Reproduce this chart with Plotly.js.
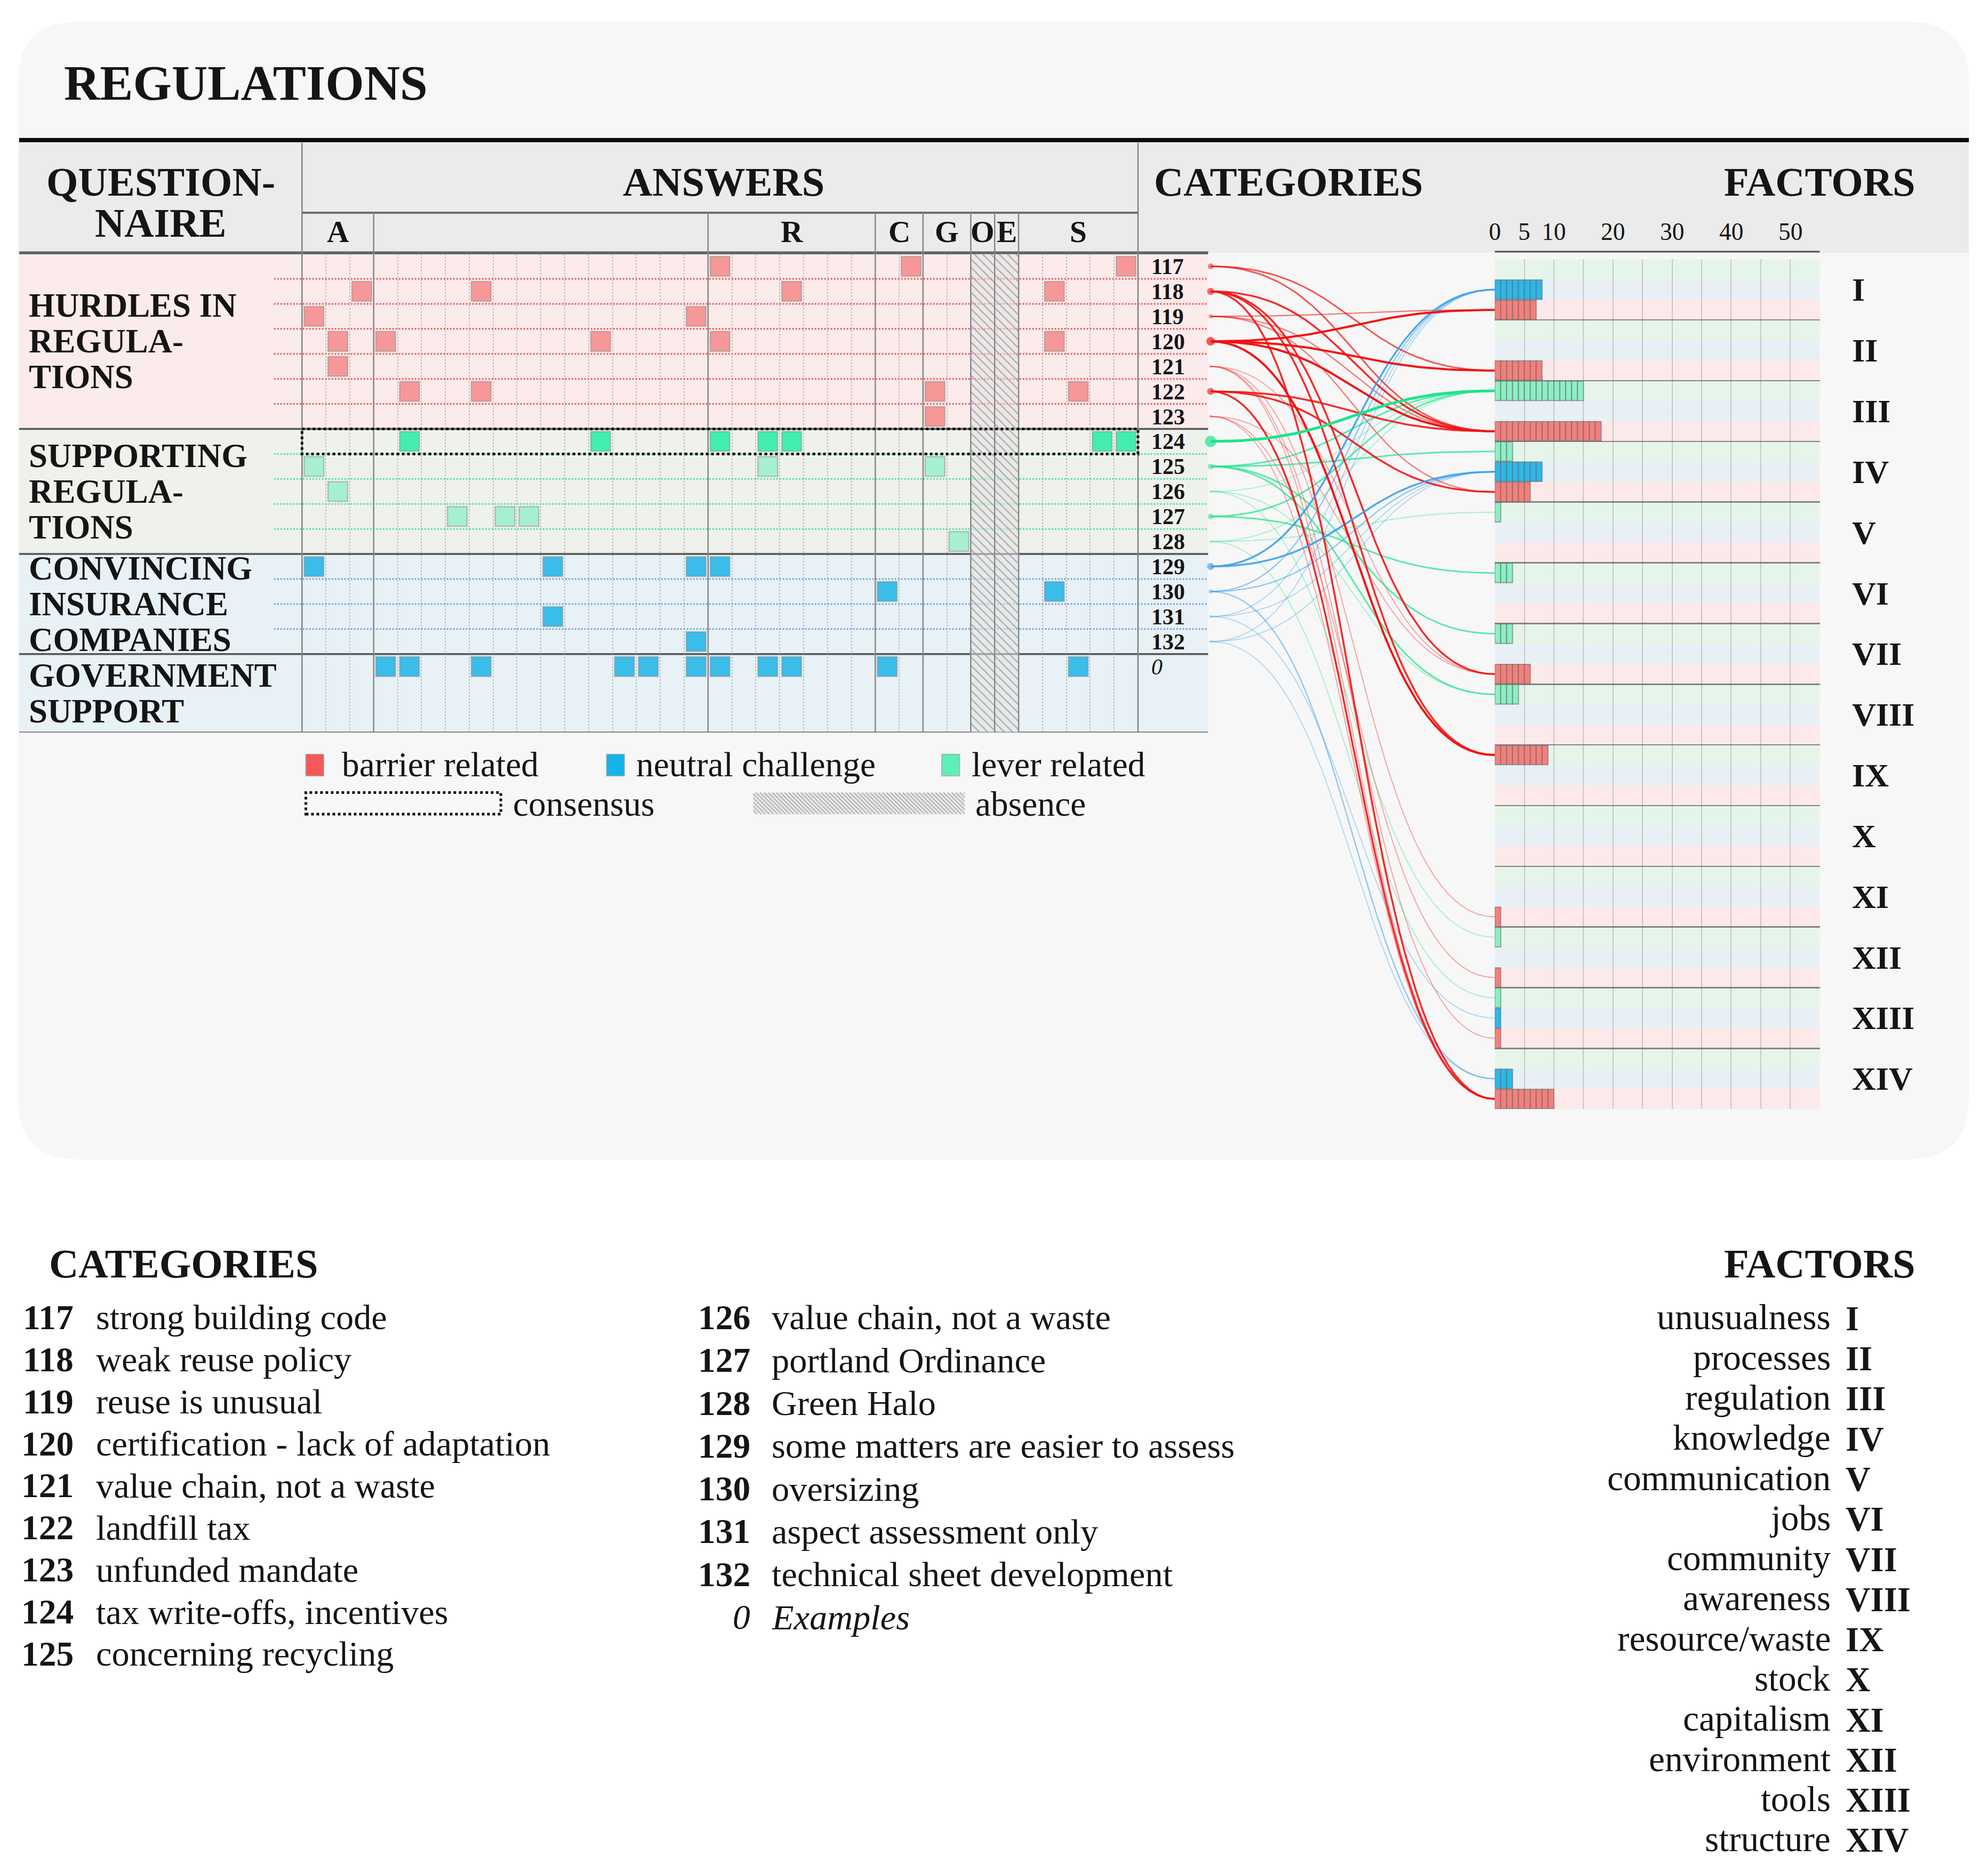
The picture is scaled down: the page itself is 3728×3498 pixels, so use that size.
<!DOCTYPE html>
<html><head><meta charset="utf-8">
<script src="https://cdn.plot.ly/plotly-3.0.1.min.js"></script>
<style>html,body{margin:0;padding:0;background:#fff}</style>
</head><body><div id="chart" style="width:3728px;height:3498px"></div>
<script>
// ================= DATA =================
const chartTitle = 'REGULATIONS';

const answerGroupLetters = ['A', '', 'R', 'C', 'G', 'O', 'E', 'S'];
const answerGroupSizes   = [3, 14, 7, 2, 2, 1, 1, 5];
const absentGroups = ['O', 'E'];

const categoryIds = ['117','118','119','120','121','122','123','124','125','126','127','128','129','130','131','132','0'];
const categoryNames = ['strong building code','weak reuse policy','reuse is unusual','certification - lack of adaptation',
  'value chain, not a waste','landfill tax','unfunded mandate','tax write-offs, incentives','concerning recycling',
  'value chain, not a waste','portland Ordinance','Green Halo','some matters are easier to assess','oversizing',
  'aspect assessment only','technical sheet development','Examples'];
const categoryKinds = ['barrier','barrier','barrier','barrier','barrier','barrier','barrier',
  'lever','lever','lever','lever','lever','neutral','neutral','neutral','neutral','neutral'];
const consensusCategories = ['124'];

// answer columns (respondent index 0..34) given per category
const answers117 = [17, 25, 34];
const answers118 = [2, 7, 20, 31];
const answers119 = [0, 16];
const answers120 = [1, 3, 12, 17, 31];
const answers121 = [1];
const answers122 = [4, 7, 26, 32];
const answers123 = [26];
const answers124 = [4, 12, 17, 19, 20, 33, 34];
const answers125 = [0, 19, 26];
const answers126 = [1];
const answers127 = [6, 8, 9];
const answers128 = [27];
const answers129 = [0, 10, 16, 17];
const answers130 = [24, 31];
const answers131 = [10];
const answers132 = [16];
const answers0   = [3, 4, 7, 13, 14, 16, 17, 19, 20, 24, 32];
const answerColumns = {'117':answers117,'118':answers118,'119':answers119,'120':answers120,'121':answers121,
  '122':answers122,'123':answers123,'124':answers124,'125':answers125,'126':answers126,'127':answers127,
  '128':answers128,'129':answers129,'130':answers130,'131':answers131,'132':answers132,'0':answers0};

const sectionLabels = [['HURDLES IN','REGULA-','TIONS'], ['SUPPORTING','REGULA-','TIONS'],
  ['CONVINCING','INSURANCE','COMPANIES'], ['GOVERNMENT','SUPPORT']];
const sectionFirstCategory = ['117', '124', '129', '0'];
const sectionKinds = ['barrier', 'lever', 'neutral', 'neutral'];

const factorNumerals = ['I','II','III','IV','V','VI','VII','VIII','IX','X','XI','XII','XIII','XIV'];
const factorNames = ['unusualness','processes','regulation','knowledge','communication','jobs','community',
  'awareness','resource/waste','stock','capitalism','environment','tools','structure'];
const leverCounts   = [0, 0, 15, 3, 1, 3, 3, 4, 0, 0, 0, 1, 1, 0];
const neutralCounts = [8, 0, 0, 8, 0, 0, 0, 0, 0, 0, 0, 0, 1, 3];
const barrierCounts = [7, 8, 18, 6, 0, 0, 6, 0, 9, 0, 1, 1, 1, 10];
const factorTicks = [0, 5, 10, 20, 30, 40, 50];

const links = [
  ['117','II'],['117','III'],
  ['118','III'],['118','VII'],['118','IX'],['118','XIV'],
  ['119','I'],['119','III'],['119','IV'],
  ['120','I'],['120','II'],['120','III'],['120','IX'],
  ['121','VII'],['121','XI'],['121','XIII'],['121','XIV'],
  ['122','III'],['122','IV'],['122','XIV'],
  ['123','VII'],['123','XII'],['123','XIV'],
  ['124','III'],
  ['125','III'],['125','IV'],['125','VII'],['125','VIII'],
  ['126','III'],['126','VIII'],['126','XII'],
  ['127','III'],['127','VI'],
  ['128','III'],['128','V'],['128','XIII'],
  ['129','I'],['129','IV'],
  ['130','I'],['130','IV'],['130','XIV'],
  ['131','I'],['131','IV'],['131','XIII'],
  ['132','I'],['132','IV'],['132','XIV']
];

// ================= GEOMETRY / STYLE =================
const W = 3728, H = 3498, S = W / 1560, DH = H / S;
const PX = d => d / 1560;
const PY = d => 1 - d / DH;
const F = d => Math.round(d * S * 10) / 10;
const SERIF = '"Liberation Serif", "DejaVu Serif", serif';
const INK = '#151515';

const G = {x0: 237, x1: 893, y0: 199.2, y1: 575, padRows: 2.14};
const B = {x0: 1173, x1: 1428, y0: 203.5, y1: 870.5, xmax: 55};
const L = {x0: 950, x1: 1173, y0: 190, y1: 885};
const SLOT_OVERRIDE = {'IX|barrier': 0};   // the original draws IX's barrier bar in the top slot
const kindSlot = {lever: 0, neutral: 1, barrier: 2};
const kindBg = {barrier: 'rgb(251,235,235)', lever: 'rgb(239,242,236)', neutral: 'rgb(232,241,245)'};
const kindDot = {barrier: 'rgba(240,70,70,0.9)', lever: 'rgba(60,225,150,0.9)', neutral: 'rgba(90,150,225,0.85)'};
const markColor = {barrier: 'rgb(246,152,152)', lever: 'rgb(166,240,207)', neutral: 'rgb(58,189,233)'};
const consensusColor = 'rgb(66,238,174)';
const barColor = {barrier: 'rgb(242,128,124)', neutral: 'rgb(45,183,232)', lever: 'rgb(140,240,196)'};
const linkRGB = {barrier: [242,20,20], lever: [30,228,140], neutral: [60,160,235]};
const subBg = ['rgb(230,245,234)', 'rgb(232,240,245)', 'rgb(252,233,234)'];

const nCols = answerGroupSizes.reduce((a, b) => a + b, 0);
const nRows = categoryIds.length;
const gridYMax = nRows - 0.5 + G.padRows;
const gridRowToDisp = r => G.y0 + (r + 0.5) / (gridYMax + 0.5) * (G.y1 - G.y0);
const nSlots = factorNumerals.length * 3;
const barToDisp = v => B.y0 + v / nSlots * (B.y1 - B.y0);
const slotOf = (k, kind) => (SLOT_OVERRIDE[factorNumerals[k] + '|' + kind] ?? kindSlot[kind]);

const groupStarts = []; { let acc = 0; answerGroupSizes.forEach(s => { groupStarts.push(acc); acc += s; }); }
const dottedCols = [];
for (let k = 1; k < nCols; k++) if (!groupStarts.includes(k)) dottedCols.push(k - 0.5);

// ================= TRACES =================
const traces = [];

// absence hatched columns
const absentCols = [];
answerGroupLetters.forEach((g, gi) => {
  if (absentGroups.includes(g)) for (let c = 0; c < answerGroupSizes[gi]; c++) absentCols.push(groupStarts[gi] + c);
});
traces.push({type: 'bar', xaxis: 'x', yaxis: 'y', x: absentCols, y: absentCols.map(() => gridYMax + 0.5),
  base: absentCols.map(() => -0.5), width: 1, hoverinfo: 'skip',
  marker: {color: 'rgba(224,224,224,0.6)', line: {color: 'rgba(130,130,130,0.8)', width: 2},
    pattern: {shape: '\\', fgcolor: 'rgba(150,150,150,0.8)', bgcolor: 'rgba(226,226,226,0.55)', size: 11, solidity: 0.2}}});

// answer marks
{
  const mx = [], my = [], mc = [];
  categoryIds.forEach((id, i) => {
    answerColumns[id].forEach(c => {
      mx.push(c); my.push(i);
      mc.push(consensusCategories.includes(id) ? consensusColor : markColor[categoryKinds[i]]);
    });
  });
  traces.push({type: 'scatter', mode: 'markers', xaxis: 'x', yaxis: 'y', x: mx, y: my, hoverinfo: 'skip',
    cliponaxis: false,
    marker: {symbol: 'square', size: F(15.4), color: mc, line: {color: 'rgba(140,140,140,0.5)', width: 2.5}}});
}

// factor bars as unit segments
function segTrace(counts, kind) {
  const x = [], y = [], base = [];
  counts.forEach((v, k) => {
    const yy = 3 * k + slotOf(k, kind) + 0.5;
    for (let j = 0; j < v; j++) { x.push(1); base.push(j); y.push(yy); }
  });
  return {type: 'bar', orientation: 'h', xaxis: 'x2', yaxis: 'y2', x, y, base, width: 0.96, hoverinfo: 'skip',
    marker: {color: barColor[kind], line: {color: 'rgba(105,105,105,0.6)', width: 2}}};
}
traces.push(segTrace(leverCounts, 'lever'));
traces.push(segTrace(neutralCounts, 'neutral'));
traces.push(segTrace(barrierCounts, 'barrier'));

// links
{
  const byCat = {};
  links.forEach(([cid, fr]) => { (byCat[cid] = byCat[cid] || []).push(fr); });
  const order = Object.keys(byCat).sort((a, b) => answerColumns[a].length - answerColumns[b].length);
  const dx = [], dy = [], ds = [], dc = [];
  order.forEach(cid => {
    const i = categoryIds.indexOf(cid), kind = categoryKinds[i], n = answerColumns[cid].length;
    const y0 = gridRowToDisp(i);
    const xs = [], ys = [];
    byCat[cid].forEach(fr => {
      const k = factorNumerals.indexOf(fr);
      const y1 = barToDisp(3 * k + slotOf(k, kind) + 0.5);
      for (let s = 0; s <= 48; s++) {
        const t = s / 48, u = 1 - t;
        xs.push(1.5 * u * t + t * t * t);
        ys.push(u * u * u * y0 + 3 * u * u * t * y0 + 3 * u * t * t * y1 + t * t * t * y1);
      }
      xs.push(null); ys.push(null);
    });
    const a = Math.min(1, 0.22 + 0.17 * n);
    const c = linkRGB[kind];
    traces.push({type: 'scatter', mode: 'lines', xaxis: 'x3', yaxis: 'y3', x: xs, y: ys, hoverinfo: 'skip',
      line: {color: `rgba(${c[0]},${c[1]},${c[2]},${a})`, width: 1.3 + 0.55 * n, shape: 'linear'}});
    dx.push(0); dy.push(y0); ds.push(3 + 2.6 * n); dc.push(`rgba(${c[0]},${c[1]},${c[2]},${a})`);
  });
  traces.push({type: 'scatter', mode: 'markers', xaxis: 'x3', yaxis: 'y3', x: dx, y: dy, cliponaxis: false,
    hoverinfo: 'skip', marker: {size: ds, color: dc, line: {width: 0}}});
}

// ================= SHAPES =================
const shapes = [];
function rectP(x0, y0, x1, y1, fill, extra) {
  return Object.assign({type: 'rect', xref: 'paper', yref: 'paper', x0: PX(x0), x1: PX(x1), y0: PY(y1), y1: PY(y0),
    fillcolor: fill, line: {width: 0}, layer: 'below'}, extra || {});
}
function lineP(x0, y0, x1, y1, color, width, dash, layer) {
  return {type: 'line', xref: 'paper', yref: 'paper', x0: PX(x0), x1: PX(x1), y0: PY(y0), y1: PY(y1),
    line: {color, width, dash: dash || 'solid'}, layer: layer || 'below'};
}
// rounded panel
{
  const x0 = 14, y0 = 17, x1 = 1545, y1 = 910, r = 48;
  const X = PX, Y = PY;
  const path = `M${X(x0 + r)},${Y(y0)} L${X(x1 - r)},${Y(y0)} Q${X(x1)},${Y(y0)} ${X(x1)},${Y(y0 + r)} ` +
    `L${X(x1)},${Y(y1 - r)} Q${X(x1)},${Y(y1)} ${X(x1 - r)},${Y(y1)} L${X(x0 + r)},${Y(y1)} ` +
    `Q${X(x0)},${Y(y1)} ${X(x0)},${Y(y1 - r)} L${X(x0)},${Y(y0 + r)} Q${X(x0)},${Y(y0)} ${X(x0 + r)},${Y(y0)} Z`;
  shapes.push({type: 'path', xref: 'paper', yref: 'paper', path, fillcolor: 'rgb(247,247,247)', line: {width: 0}, layer: 'below'});
}
shapes.push(rectP(15, 112, 1545, 198.5, 'rgb(235,235,235)'));

// section backgrounds
const sectionStart = sectionFirstCategory.map(id => categoryIds.indexOf(id) - 0.5);
const sectionEnd = sectionStart.map((s, j) => j + 1 < sectionStart.length ? sectionStart[j + 1] : gridYMax);
sectionStart.forEach((s, j) => {
  shapes.push({type: 'rect', xref: 'paper', yref: 'y', x0: PX(15), x1: PX(948), y0: s, y1: sectionEnd[j],
    fillcolor: kindBg[sectionKinds[j]], line: {width: 0}, layer: 'below'});
});
// row dotted lines inside sections
sectionStart.forEach((s, j) => {
  for (let b = s + 1; b < sectionEnd[j] - 0.6 && b < nRows - 0.5; b += 1) {
    shapes.push({type: 'line', xref: 'paper', yref: 'y', x0: PX(215), x1: PX(948), y0: b, y1: b,
      line: {color: kindDot[sectionKinds[j]], width: 3, dash: 'dot'}, layer: 'below'});
  }
});
// section separators
sectionStart.slice(1).forEach(s => {
  shapes.push({type: 'line', xref: 'paper', yref: 'y', x0: PX(15), x1: PX(948), y0: s, y1: s,
    line: {color: 'rgb(85,85,85)', width: 3.5}, layer: 'below'});
});
shapes.push({type: 'line', xref: 'paper', yref: 'y', x0: PX(15), x1: PX(948), y0: gridYMax, y1: gridYMax,
  line: {color: 'rgb(120,120,120)', width: 3.5}, layer: 'below'});
// header lines
shapes.push(lineP(15, 198.5, 948, 198.5, 'rgb(100,100,100)', 5.5));
shapes.push(lineP(15, 110, 1545, 110, '#0a0a0a', 8, 'solid', 'above'));
shapes.push(lineP(G.x0, 112, G.x0, G.y1, 'rgb(130,130,130)', 2.5));
shapes.push(lineP(G.x1, 112, G.x1, G.y1, 'rgb(130,130,130)', 2.5));
shapes.push(lineP(G.x0, 167, G.x1, 167, 'rgb(110,110,110)', 4));
groupStarts.slice(1).forEach(gs => {
  shapes.push({type: 'line', xref: 'x', yref: 'paper', x0: gs - 0.5, x1: gs - 0.5, y0: PY(167), y1: PY(G.y1),
    line: {color: 'rgb(135,135,135)', width: 2.5}, layer: 'below'});
});
// consensus box
consensusCategories.forEach(id => {
  const r = categoryIds.indexOf(id);
  shapes.push({type: 'rect', xref: 'paper', yref: 'y', x0: PX(G.x0), x1: PX(G.x1), y0: r - 0.5, y1: r + 0.5,
    line: {color: '#111', width: 5, dash: 'dot'}, fillcolor: 'rgba(0,0,0,0)', layer: 'above'});
});
// factor chart top line + sub-row backgrounds
shapes.push(lineP(B.x0, 197.5, B.x1, 197.5, 'rgb(80,80,80)', 3));
for (let k = 0; k < factorNumerals.length; k++) for (let s = 0; s < 3; s++) {
  shapes.push({type: 'rect', xref: 'x2', yref: 'y2', x0: 0, x1: B.xmax, y0: 3 * k + s, y1: 3 * k + s + 1,
    fillcolor: subBg[s], line: {width: 0}, layer: 'below'});
}
// legend shapes
shapes.push(rectP(240, 592, 254, 609, 'rgb(246,88,88)', {line: {color: 'rgba(150,150,150,0.6)', width: 2}, layer: 'above'}));
shapes.push(rectP(476, 592, 490, 609, 'rgb(20,180,232)', {line: {color: 'rgba(150,150,150,0.6)', width: 2}, layer: 'above'}));
shapes.push(rectP(739, 592, 753, 609, 'rgb(95,240,185)', {line: {color: 'rgba(150,150,150,0.6)', width: 2}, layer: 'above'}));
shapes.push(rectP(240, 622, 393, 639, 'rgba(0,0,0,0)', {line: {color: '#111', width: 5, dash: 'dot'}, layer: 'above'}));
shapes.push(rectP(591, 622, 757, 639, 'rgba(222,222,222,0.55)', {layer: 'above'}));
{
  let p = '';
  const x0 = 591, x1 = 757, y0 = 622, y1 = 639, h = y1 - y0;
  for (let s = x0 - h; s < x1; s += 3.2) {
    const xa = Math.max(s, x0), xb = Math.min(s + h, x1);
    if (xb <= xa) continue;
    p += `M${PX(xa)},${PY(y0 + xa - s)} L${PX(xb)},${PY(y0 + xb - s)} `;
  }
  shapes.push({type: 'path', xref: 'paper', yref: 'paper', path: p, line: {color: 'rgba(160,160,160,0.75)', width: 2}, layer: 'above'});
}

// ================= ANNOTATIONS =================
const ann = [];
function txt(text, x, y, size, o) {
  o = o || {};
  return {text, x: o.xref ? x : PX(x), y: o.yref ? y : PY(y), xref: o.xref || 'paper', yref: o.yref || 'paper',
    showarrow: false, xanchor: o.anchor || 'left', yanchor: 'middle', borderpad: 0,
    font: {family: SERIF, size: F(size), color: INK, weight: o.bold ? 'bold' : 'normal', style: o.italic ? 'italic' : 'normal'}};
}
ann.push(txt(chartTitle, 50, 65, 39, {bold: true}));
ann.push(txt('QUESTION-', 126, 143, 32, {bold: true, anchor: 'center'}));
ann.push(txt('NAIRE', 126, 175, 32, {bold: true, anchor: 'center'}));
ann.push(txt('ANSWERS', 568, 143, 32, {bold: true, anchor: 'center'}));
ann.push(txt('CATEGORIES', 905, 143, 32, {bold: true}));
ann.push(txt('FACTORS', 1503, 143, 32, {bold: true, anchor: 'right'}));
answerGroupLetters.forEach((g, gi) => {
  if (!g) return;
  const c = groupStarts[gi] + (answerGroupSizes[gi] - 1) / 2;
  ann.push(txt(g, c, 182, 24, {bold: true, anchor: 'center', xref: 'x'}));
});
sectionLabels.forEach((lines, j) => {
  const mid = gridRowToDisp((sectionStart[j] + sectionEnd[j]) / 2);
  lines.forEach((ln, q) => ann.push(txt(ln, 22, mid + (q - (lines.length - 1) / 2) * 28, 26.3, {bold: true})));
});
categoryIds.forEach((id, i) => {
  const it = id === '0';
  ann.push(txt(it ? '<i>0</i>' : id, 903, i, 17.6, {bold: !it, italic: it, yref: 'y'}));
});
factorTicks.forEach(v => ann.push(txt(String(v), v, 182, 19, {anchor: 'center', xref: 'x2'})));
factorNumerals.forEach((r, k) => ann.push(txt(r, 1453, 3 * k + 1.5, 26, {bold: true, yref: 'y2'})));
// legend texts
ann.push(txt('barrier related', 268, 600, 27.4));
ann.push(txt('neutral challenge', 499, 600, 27.4));
ann.push(txt('lever related', 762, 600, 27.4));
ann.push(txt('consensus', 402, 631, 27.4));
ann.push(txt('absence', 765, 631, 27.4));
// bottom category legend
ann.push(txt('CATEGORIES', 38, 992, 32, {bold: true}));
categoryIds.forEach((id, i) => {
  const col2 = i >= 9;
  const j = col2 ? i - 9 : i;
  const y = 1034 + j * (col2 ? 33.6 : 33.0);
  const it = id === '0';
  ann.push(txt(it ? '<i>0</i>' : id, col2 ? 589 : 58, y, 27.4, {bold: !it, italic: it, anchor: 'right'}));
  ann.push(txt(it ? '<i>' + categoryNames[i] + '</i>' : categoryNames[i], col2 ? 605 : 75, y, 27.8, {italic: it}));
});
// bottom factor legend
ann.push(txt('FACTORS', 1503, 992, 32, {bold: true, anchor: 'right'}));
factorNames.forEach((nm, k) => {
  const y = 1034 + k * 31.5;
  ann.push(txt(nm, 1437, y, 28.2, {anchor: 'right'}));
  ann.push(txt(factorNumerals[k], 1448, y + 1, 27, {bold: true}));
});

// ================= LAYOUT =================
const hidden = {showgrid: false, zeroline: false, showticklabels: false, ticks: '', showline: false, fixedrange: true};
const layout = {
  width: W, height: H, margin: {l: 0, r: 0, t: 0, b: 0, pad: 0},
  paper_bgcolor: '#ffffff', plot_bgcolor: 'rgba(0,0,0,0)', showlegend: false, barmode: 'overlay', bargap: 0,
  font: {family: SERIF, color: INK},
  xaxis: Object.assign({}, hidden, {domain: [PX(G.x0), PX(G.x1)], range: [-0.5, nCols - 0.5], anchor: 'y',
    tickmode: 'array', tickvals: dottedCols, showgrid: true, griddash: 'dot', gridcolor: 'rgba(150,150,150,0.6)', gridwidth: 2}),
  yaxis: Object.assign({}, hidden, {domain: [PY(G.y1), PY(G.y0)], range: [gridYMax, -0.5], anchor: 'x'}),
  xaxis2: Object.assign({}, hidden, {domain: [PX(B.x0), PX(B.x1)], range: [0, B.xmax], anchor: 'y2',
    tickmode: 'array', tickvals: Array.from({length: B.xmax / 5 + 1}, (_, i) => i * 5),
    showgrid: true, gridcolor: 'rgba(150,150,150,0.45)', gridwidth: 2}),
  yaxis2: Object.assign({}, hidden, {domain: [PY(B.y1), PY(B.y0)], range: [nSlots, 0], anchor: 'x2',
    tickmode: 'array', tickvals: Array.from({length: factorNumerals.length}, (_, k) => 3 * (k + 1)),
    showgrid: true, gridcolor: 'rgba(105,105,105,0.8)', gridwidth: 2.5}),
  xaxis3: Object.assign({}, hidden, {domain: [PX(L.x0), PX(L.x1)], range: [0, 1], anchor: 'y3', visible: false}),
  yaxis3: Object.assign({}, hidden, {domain: [PY(L.y1), PY(L.y0)], range: [L.y1, L.y0], anchor: 'x3', visible: false}),
  shapes, annotations: ann
};

Plotly.newPlot('chart', traces, layout, {staticPlot: true, displayModeBar: false});
</script>
</body></html>
